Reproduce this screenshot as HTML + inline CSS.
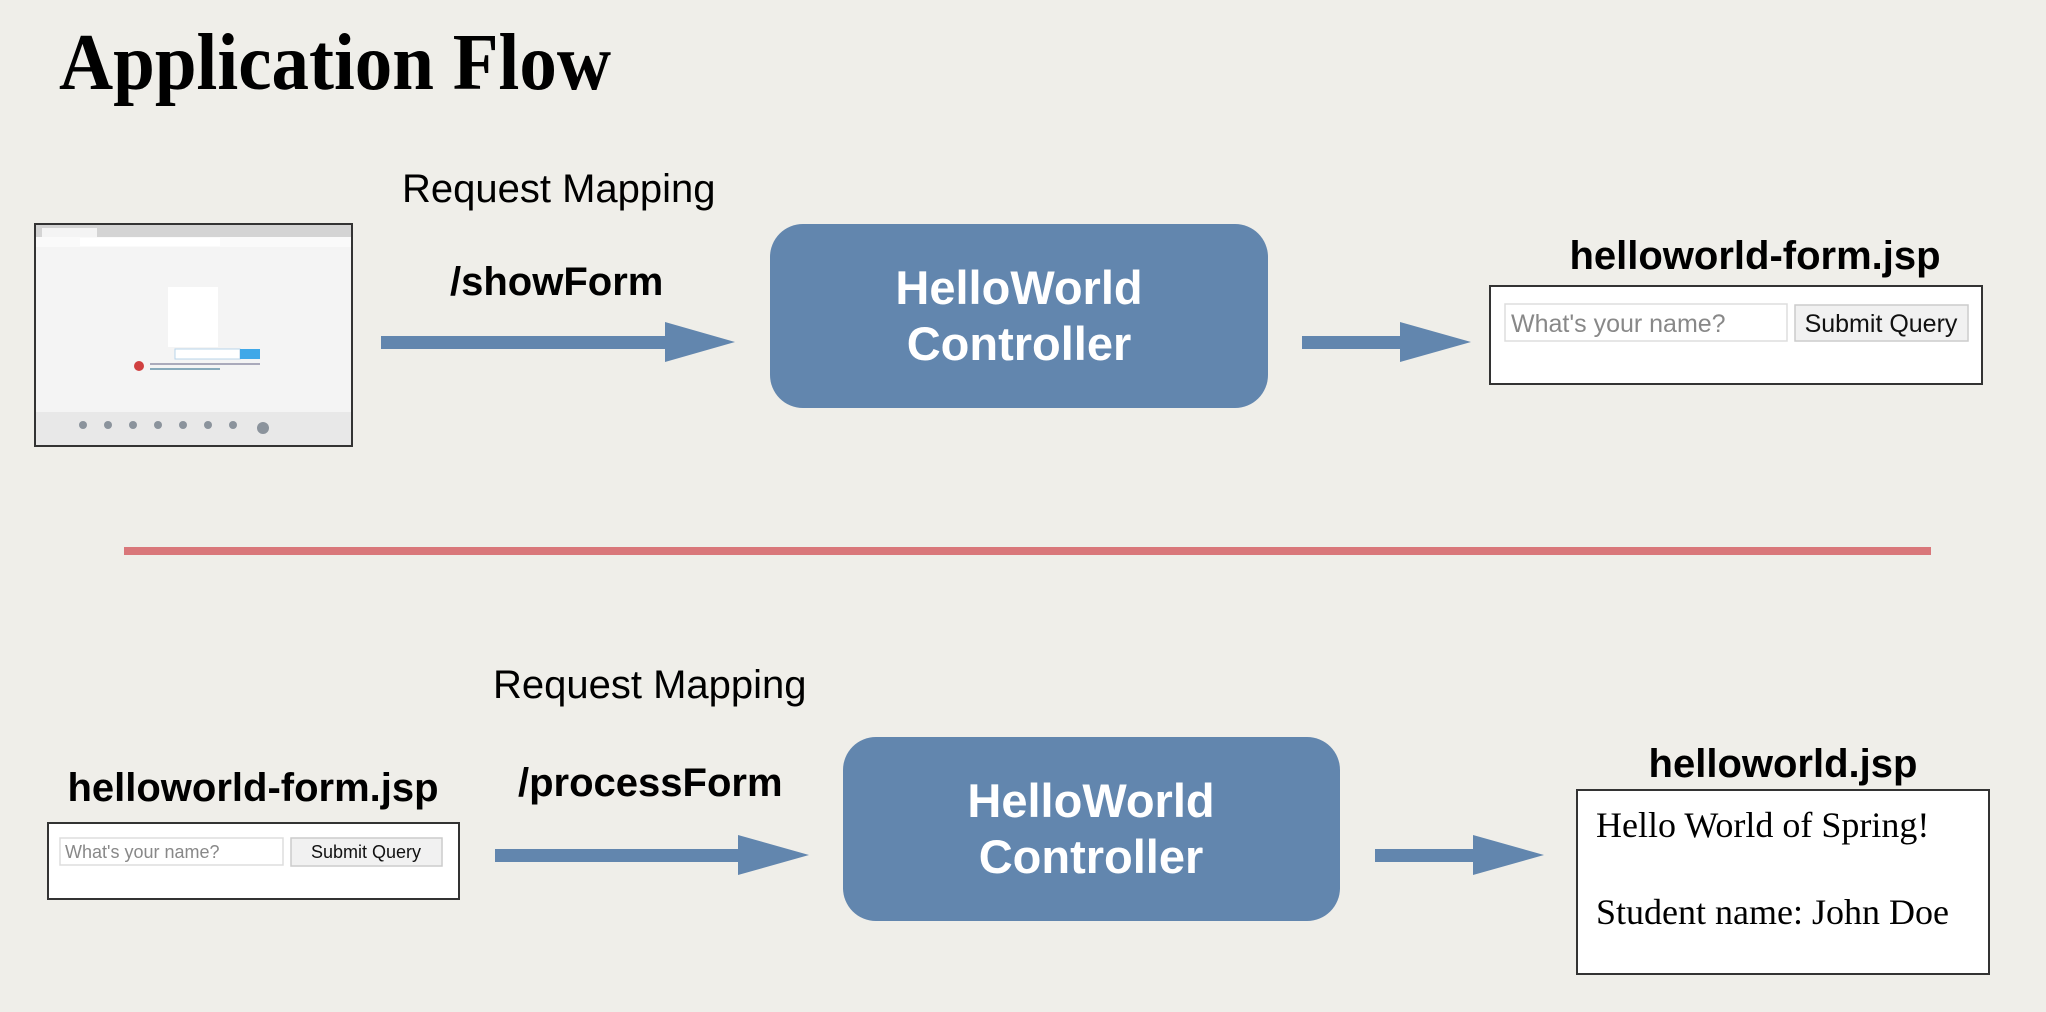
<!DOCTYPE html>
<html><head><meta charset="utf-8"><style>
html,body{margin:0;padding:0;width:2046px;height:1012px;overflow:hidden;background:#efeee9;}
svg{display:block}
</style></head><body>
<svg width="2046" height="1012" viewBox="0 0 2046 1012" xmlns="http://www.w3.org/2000/svg">
<rect width="2046" height="1012" fill="#efeee9"/>
<text x="59" y="89" font-family="Liberation Serif, serif" font-weight="bold" font-size="80" textLength="552" lengthAdjust="spacingAndGlyphs" fill="#000">Application Flow</text>

<!-- browser screenshot -->
<g>
<rect x="35" y="224" width="317" height="222" fill="#f4f4f4" stroke="#333" stroke-width="2"/>
<rect x="36" y="225" width="315" height="12" fill="#d4d4d4"/>
<rect x="42" y="228" width="55" height="9" fill="#f4f4f4"/>
<rect x="36" y="237" width="315" height="10" fill="#fafafa"/>
<rect x="80" y="238" width="140" height="8" fill="#fff"/>
<rect x="168" y="287" width="50" height="60" fill="#fff"/>
<rect x="175" y="349" width="65" height="10" fill="#fff" stroke="#b8d4ea"/>
<rect x="240" y="349" width="20" height="10" fill="#40a8e8"/>
<circle cx="139" cy="366" r="5" fill="#d04040"/>
<rect x="150" y="363" width="110" height="2" fill="#aab"/>
<rect x="150" y="368" width="70" height="2" fill="#8ab"/>
<rect x="36" y="412" width="315" height="33" fill="#e8e8e8"/>
<g fill="#8b939c"><circle cx="83" cy="425" r="4"/><circle cx="108" cy="425" r="4"/><circle cx="133" cy="425" r="4"/><circle cx="158" cy="425" r="4"/><circle cx="183" cy="425" r="4"/><circle cx="208" cy="425" r="4"/><circle cx="233" cy="425" r="4"/><circle cx="263" cy="428" r="6"/></g>
</g>

<text x="402" y="202" font-family="Liberation Sans, sans-serif" font-size="40" fill="#000">Request Mapping</text>
<text x="450" y="295" font-family="Liberation Sans, sans-serif" font-weight="bold" font-size="40" fill="#000">/showForm</text>
<rect x="381" y="336" width="290" height="13" fill="#6286ae"/>
<polygon points="665,322 735,342 665,362" fill="#6286ae"/>

<rect x="770" y="224" width="498" height="184" rx="33" fill="#6286ae"/>
<text x="1019" y="304" text-anchor="middle" font-family="Liberation Sans, sans-serif" font-weight="bold" font-size="47" fill="#fff">HelloWorld</text>
<text x="1019" y="360" text-anchor="middle" font-family="Liberation Sans, sans-serif" font-weight="bold" font-size="47" fill="#fff">Controller</text>

<rect x="1302" y="336" width="100" height="13" fill="#6286ae"/>
<polygon points="1400,322 1471,342 1400,362" fill="#6286ae"/>

<text x="1755" y="269" text-anchor="middle" font-family="Liberation Sans, sans-serif" font-weight="bold" font-size="40" fill="#000">helloworld-form.jsp</text>
<rect x="1490" y="286" width="492" height="98" fill="#fff" stroke="#333" stroke-width="2"/>
<rect x="1505" y="304" width="282" height="37" fill="#fff" stroke="#ddd" stroke-width="1.5"/>
<text x="1511" y="332" font-family="Liberation Sans, sans-serif" font-size="25" fill="#888">What's your name?</text>
<rect x="1795" y="305" width="173" height="36" fill="#f1f1f1" stroke="#ccc" stroke-width="1.5"/>
<text x="1881" y="332" text-anchor="middle" font-family="Liberation Sans, sans-serif" font-size="25" fill="#111">Submit Query</text>

<rect x="124" y="547" width="1807" height="8" fill="#d9777a"/>

<text x="493" y="698" font-family="Liberation Sans, sans-serif" font-size="40" fill="#000">Request Mapping</text>
<text x="518" y="796" font-family="Liberation Sans, sans-serif" font-weight="bold" font-size="40" fill="#000">/processForm</text>

<text x="253" y="801" text-anchor="middle" font-family="Liberation Sans, sans-serif" font-weight="bold" font-size="40" fill="#000">helloworld-form.jsp</text>
<rect x="48" y="823" width="411" height="76" fill="#fff" stroke="#333" stroke-width="2"/>
<rect x="60" y="838" width="223" height="27" fill="#fff" stroke="#ddd" stroke-width="1.5"/>
<text x="65" y="858" font-family="Liberation Sans, sans-serif" font-size="18" fill="#888">What's your name?</text>
<rect x="291" y="838" width="151" height="28" fill="#f1f1f1" stroke="#ccc" stroke-width="1.5"/>
<text x="366" y="858" text-anchor="middle" font-family="Liberation Sans, sans-serif" font-size="18" fill="#111">Submit Query</text>

<rect x="495" y="849" width="245" height="13" fill="#6286ae"/>
<polygon points="738,835 809,855 738,875" fill="#6286ae"/>

<rect x="843" y="737" width="497" height="184" rx="33" fill="#6286ae"/>
<text x="1091" y="817" text-anchor="middle" font-family="Liberation Sans, sans-serif" font-weight="bold" font-size="47" fill="#fff">HelloWorld</text>
<text x="1091" y="873" text-anchor="middle" font-family="Liberation Sans, sans-serif" font-weight="bold" font-size="47" fill="#fff">Controller</text>

<rect x="1375" y="849" width="100" height="13" fill="#6286ae"/>
<polygon points="1473,835 1544,855 1473,875" fill="#6286ae"/>

<text x="1783" y="777" text-anchor="middle" font-family="Liberation Sans, sans-serif" font-weight="bold" font-size="40" fill="#000">helloworld.jsp</text>
<rect x="1577" y="790" width="412" height="184" fill="#fff" stroke="#333" stroke-width="2"/>
<text x="1596" y="837" font-family="Liberation Serif, serif" font-size="36" fill="#000">Hello World of Spring!</text>
<text x="1596" y="924" font-family="Liberation Serif, serif" font-size="36" fill="#000">Student name: John Doe</text>
</svg>
</body></html>
